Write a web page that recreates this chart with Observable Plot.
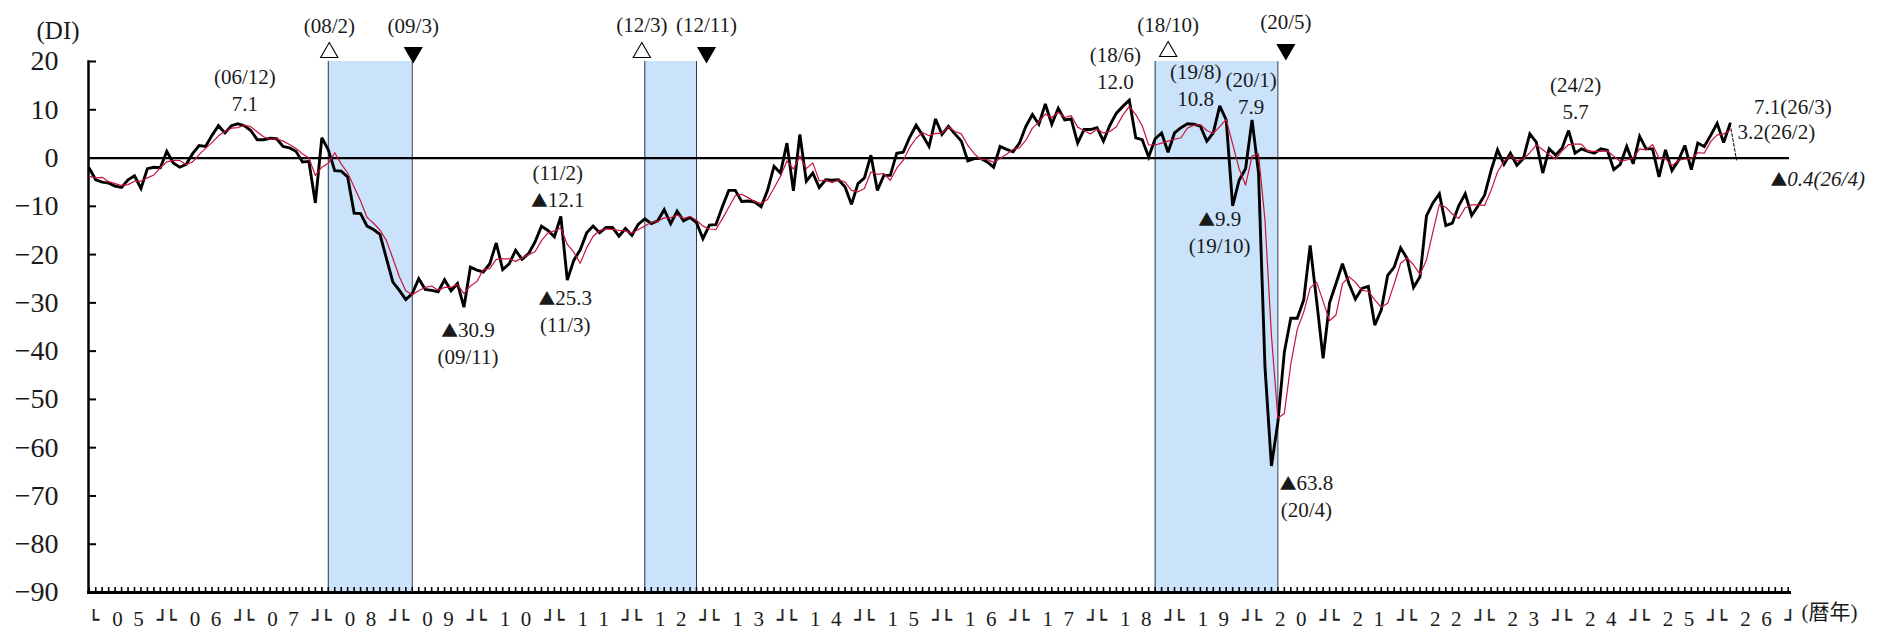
<!DOCTYPE html>
<html><head><meta charset="utf-8">
<script src="https://cdn.jsdelivr.net/npm/d3@7"></script>
<script src="https://cdn.jsdelivr.net/npm/@observablehq/plot@0.6"></script>
<style>
body{margin:0;background:#fff;}
#chart svg{display:block;}
</style></head><body><div id="chart"></div>
<script>
// ---------------- data ----------------
const startYear = 2005; // first month = 2005/1
// monthly DI (black line), 2005/1 .. 2026/3
const diMonthly = [
 -2.1,-4.5,-5.0,-5.2,-5.8,-6.1,-4.5,-3.7,-6.3,-2.2,-1.9,-2.0,
 1.4,-1.0,-1.9,-1.3,0.9,2.6,2.4,4.7,6.7,5.2,6.7,7.1,
 6.7,5.7,3.8,3.8,4.1,4.0,2.4,2.1,1.4,-0.8,-0.7,-9.3,
 4.2,1.7,-2.6,-2.7,-3.9,-11.4,-11.5,-14.1,-14.8,-15.8,-20.8,-25.7,
 -27.4,-29.3,-28.1,-25.0,-27.2,-27.4,-27.7,-25.2,-27.5,-26.0,-30.9,-22.6,
 -23.2,-23.6,-21.9,-17.6,-23.1,-21.9,-19.1,-21.0,-19.8,-17.4,-14.1,-15.0,
 -16.3,-12.1,-25.3,-21.2,-19.0,-15.5,-14.1,-15.5,-14.4,-14.4,-16.2,-14.6,
 -16.0,-13.7,-12.6,-13.6,-13.0,-10.7,-13.6,-11.0,-13.0,-12.3,-13.4,-16.7,
 -13.9,-13.8,-10.1,-6.7,-6.7,-9.0,-8.9,-9.1,-10.1,-6.7,-1.7,-3.1,
 3.1,-6.8,4.9,-4.8,-3.1,-6.1,-4.5,-4.6,-4.5,-6.0,-9.6,-5.3,
 -4.1,0.6,-6.7,-3.6,-3.6,1.0,1.2,4.3,6.8,4.7,2.4,8.1,
 4.9,6.6,5.0,3.5,-0.6,-0.1,-0.1,-0.8,-1.9,2.4,1.8,1.3,
 3.1,6.6,9.0,7.0,11.2,7.0,10.3,7.9,8.1,3.1,5.9,5.9,
 6.3,3.5,6.8,9.3,10.7,12.0,4.2,3.8,0.2,4.0,5.2,1.2,
 5.2,6.3,7.1,7.0,6.6,3.5,5.2,10.8,7.9,-9.9,-4.6,-2.2,
 7.9,-3.0,-43.2,-63.8,-54.7,-40.2,-33.2,-33.2,-29.4,-18.1,-29.6,-41.5,
 -30.0,-26.0,-21.9,-26.0,-29.2,-27.0,-26.6,-34.6,-31.5,-24.3,-22.6,-18.6,
 -20.8,-26.8,-24.6,-12.0,-9.3,-7.4,-14.0,-13.5,-9.9,-7.4,-11.9,-9.9,
 -7.7,-2.6,1.7,-1.3,1.0,-1.5,-0.1,5.0,3.3,-3.1,1.9,0.6,
 2.1,5.7,1.0,1.9,1.4,1.0,1.9,1.6,-2.4,-1.3,2.4,-1.2,
 4.5,1.9,1.9,-3.9,1.7,-2.6,-0.5,2.6,-2.4,3.1,2.4,4.7,
 7.2,3.2,7.1
];
// 3-month average (red line)
const diAvg3 = [
 -3.8,-4.1,-4.0,-4.9,-5.3,-5.7,-5.5,-4.8,-4.8,-4.1,-3.5,-2.0,
 -0.8,-0.5,-0.5,-1.4,-0.8,0.7,2.0,3.2,4.6,5.5,6.2,6.3,
 6.8,6.5,5.4,4.4,3.9,4.0,3.5,2.8,2.0,0.9,0.0,-3.6,
 -1.9,-1.1,1.1,-1.2,-3.1,-6.0,-8.9,-12.3,-13.5,-14.9,-17.1,-20.8,
 -24.6,-27.5,-28.3,-27.5,-26.8,-26.5,-27.4,-26.8,-26.8,-26.2,-28.1,-26.5,
 -25.6,-23.1,-22.9,-21.0,-20.9,-20.9,-21.4,-20.7,-20.0,-19.4,-17.1,-15.5,
 -15.1,-14.5,-17.9,-19.5,-21.8,-18.6,-16.2,-15.0,-14.7,-14.8,-15.0,-15.1,
 -15.6,-14.8,-14.1,-13.3,-13.1,-12.4,-12.4,-11.8,-12.5,-12.1,-12.9,-14.1,
 -14.7,-14.8,-12.6,-10.2,-7.8,-7.5,-8.2,-9.0,-9.4,-8.6,-6.2,-3.8,
 -0.6,-2.3,0.4,-2.2,-1.0,-4.7,-4.6,-5.1,-4.5,-5.0,-6.7,-7.0,
 -6.3,-2.9,-3.4,-3.2,-4.6,-2.1,-0.5,2.2,4.1,5.3,4.6,5.1,
 5.1,6.5,5.5,5.0,2.6,0.9,-0.3,-0.3,-0.9,-0.1,0.8,1.8,
 2.1,3.7,6.2,7.5,9.1,8.4,9.5,8.4,8.8,6.4,5.7,5.0,
 6.0,5.2,5.5,6.5,8.9,10.7,9.0,6.7,2.7,2.7,3.1,3.5,
 3.9,4.2,6.2,6.8,6.9,5.7,5.1,6.5,8.0,2.9,-2.2,-5.6,
 0.4,0.9,-12.8,-36.7,-53.9,-52.9,-42.7,-35.5,-31.9,-26.9,-25.7,-29.7,
 -33.7,-32.5,-26.0,-24.6,-25.7,-27.4,-27.6,-29.4,-30.9,-30.1,-26.1,-21.8,
 -20.7,-22.1,-24.1,-21.1,-15.3,-9.6,-10.2,-11.6,-12.5,-10.3,-9.7,-9.7,
 -9.8,-6.7,-2.9,-0.7,0.5,-0.6,-0.2,1.1,2.7,1.7,0.7,-0.2,
 1.5,2.8,2.9,2.9,1.4,1.4,1.4,1.5,0.4,-0.7,-0.4,0.0,
 1.9,1.7,2.8,0.0,-0.1,-1.6,-0.5,-0.2,-0.1,1.1,1.0,3.4,
 4.8,5.0,5.8
];
// preliminary value (dashed)
const prelimMonth = "26/4";
const prelimValue = -0.4;

const yearLabels = ["05","06","07","08","09","10","11","12","13","14","15","16","17","18","19","20","21","22","23","24","25","26"];
const yTicks = [20,10,0,-10,-20,-30,-40,-50,-60,-70,-80,-90];
const recessions = [["08/2","09/3"],["12/3","12/11"],["18/10","20/5"]];
const turningPoints = [
  {at:"08/2", kind:"peak"},{at:"09/3", kind:"trough"},
  {at:"12/3", kind:"peak"},{at:"12/11", kind:"trough"},
  {at:"18/10", kind:"peak"},{at:"20/5", kind:"trough"}
];
const annotatedMonths = ["06/12","09/11","11/2","11/3","18/6","19/8","19/10","20/1","20/4","24/2"];
const latestMonths = ["26/3","26/2"];

// ---------------- layout (styles / offsets) ----------------
const SERIF = '"Liberation Serif","DejaVu Serif","Noto Sans CJK JP",serif';
const CJK = '"Noto Sans CJK JP",sans-serif';
const BOX = '"DejaVu Sans",sans-serif';
const TXT = "#1a1a1a";
const FS = 21;
const labelLayout = {
  "06/12": {dx:7,  date:-47, value:-19.5},
  "09/11": {dx:4,  date:50,  value:23},
  "11/2":  {dx:-3, date:-43, value:-16},
  "11/3":  {dx:-2, date:45,  value:18},
  "18/6":  {dx:-14,date:-45, value:-18},
  "19/8":  {dx:-24,date:-34, value:-6.5},
  "19/10": {dx:-13,date:40,  value:13.5},
  "20/1":  {dx:-1, date:-39.5,value:-13},
  "20/4":  {dx:35, date:44,  value:17},
  "24/2":  {dx:7,  date:-45, value:-18.5}
};
const latestLayout = {"26/3": {dx:24, dy:-17}, "26/2": {dx:14, dy:-10}, "26/4": {dx:34, dy:19.5}};
const turnLayout = {
  "08/2": {dx:1, mark:-9, label:-35.5}, "09/3": {dx:1, mark:-9, label:-35.5},
  "12/3": {dx:-3, mark:-9, label:-36}, "12/11": {dx:10, mark:-9, label:-36},
  "18/10": {dx:13, mark:-10, label:-36.5}, "20/5": {dx:8, mark:-12, label:-39}
};

// ---------------- helpers ----------------
const idx = s => { const [yy, mm] = s.split("/").map(Number); return (2000 + yy - startYear) * 12 + mm - 1; };
const fmt = v => (v < 0 ? "▲" + (-v).toFixed(1) : v.toFixed(1));
const black = diMonthly.map((v, i) => ({i, v}));
const red = diAvg3.map((v, i) => ({i, v}));
const lastI = diMonthly.length - 1;
const dashed = [{i: lastI, v: diMonthly[lastI]}, {i: idx(prelimMonth), v: prelimValue}];
const recs = recessions.map(([a, b]) => ({x1: idx(a), x2: idx(b)}));
const edges = recessions.flat().map(idx);
const nMonths = yearLabels.length * 12;

const marks = [];
marks.push(Plot.rect(recs, {x1: "x1", x2: "x2", y1: () => -90, y2: () => 20, fill: "#cbe3fa"}));
marks.push(Plot.ruleX(edges, {x: d => d, y1: () => -90, y2: () => 20, stroke: "#2c3850", strokeWidth: 1}));
marks.push(Plot.ruleY([0], {stroke: "#000", strokeWidth: 2.2}));
// monthly comb ticks on the x axis (pointing up)
marks.push(Plot.tickX(d3.range(0, nMonths), {x: d => d, insetTop: 526, stroke: "#000", strokeWidth: 1.6}));
// y ticks (pointing right)
marks.push(Plot.tickY(yTicks, {y: d => d, insetRight: 1693, stroke: "#000", strokeWidth: 2}));
marks.push(Plot.frame({anchor: "left", stroke: "#000", strokeWidth: 2.5}));
marks.push(Plot.frame({anchor: "bottom", stroke: "#000", strokeWidth: 3}));
marks.push(Plot.axisY({ticks: yTicks, label: null, tickSize: 0, tickPadding: 30, fontSize: 28, fontFamily: SERIF,
  tickFormat: d => d < 0 ? "\u2212" + Math.abs(d) : String(d)}));
// lines
marks.push(Plot.line(black, {x: "i", y: "v", stroke: "#000", strokeWidth: 2.9, strokeLinejoin: "miter", strokeMiterlimit: 3}));
marks.push(Plot.line(dashed, {x: "i", y: "v", stroke: "#000", strokeWidth: 1, strokeDasharray: "3,2"}));
marks.push(Plot.line(red, {x: "i", y: "v", stroke: "#c8143c", strokeWidth: 1.2}));

// turning point markers
for (const t of turningPoints) {
  const L = turnLayout[t.at];
  const d = [{x: idx(t.at)}];
  marks.push(Plot.dot(d, {x: "x", y: () => 20, dx: L.dx, dy: L.mark, symbol: "triangle", r: 6.4,
    rotate: t.kind === "trough" ? 180 : 0, fill: t.kind === "trough" ? "#000" : "#fff", stroke: "#000", strokeWidth: 1.1}));
  marks.push(Plot.text(d, {x: "x", y: () => 20, dx: L.dx, dy: L.label, text: () => `(${t.at})`,
    fontSize: FS, fontFamily: SERIF, fill: TXT}));
}
// peak / trough annotations
for (const m of annotatedMonths) {
  const L = labelLayout[m];
  const d = [{x: idx(m), v: diMonthly[idx(m)]}];
  marks.push(Plot.text(d, {x: "x", y: "v", dx: L.dx, dy: L.date, text: () => `(${m})`, fontSize: FS, fontFamily: SERIF, fill: TXT}));
  marks.push(Plot.text(d, {x: "x", y: "v", dx: L.dx, dy: L.value, text: d => fmt(d.v), fontSize: FS, fontFamily: SERIF, fill: TXT}));
}
for (const m of latestMonths) {
  const L = latestLayout[m];
  const d = [{x: idx(m), v: diMonthly[idx(m)]}];
  marks.push(Plot.text(d, {x: "x", y: "v", dx: L.dx, dy: L.dy, textAnchor: "start", text: d => `${fmt(d.v)}(${m})`,
    fontSize: FS, fontFamily: SERIF, fill: TXT}));
}
{
  const L = latestLayout[prelimMonth];
  marks.push(Plot.text([{x: idx(prelimMonth), v: prelimValue}], {x: "x", y: "v", dx: L.dx, dy: L.dy, textAnchor: "start",
    text: d => `${fmt(d.v)}(${prelimMonth})`, fontStyle: "italic", fontSize: FS, fontFamily: SERIF, fill: TXT}));
}
// x axis year labels:  └ 0 5 ┘
marks.push(Plot.text(yearLabels, {x: (d, i) => i * 12 + 6, y: () => -90, dy: 27, text: d => d.split("").join("\u2002"),
  fontSize: 21, fontFamily: SERIF, fill: TXT}));
marks.push(Plot.text(yearLabels, {x: (d, i) => i * 12, y: () => -90, dy: 27.5, dx: -1, textAnchor: "start", text: () => "\u2514",
  fontSize: 18, fontFamily: BOX, fill: TXT, stroke: TXT, strokeWidth: 0.4}));
marks.push(Plot.text(yearLabels, {x: (d, i) => i * 12 + 12, y: () => -90, dy: 27.5, dx: 1, textAnchor: "end", text: () => "\u2518",
  fontSize: 18, fontFamily: BOX, fill: TXT, stroke: TXT, strokeWidth: 0.4}));
marks.push(Plot.text(["(暦年)"], {frameAnchor: "bottom-right", textAnchor: "start", dx: 12, dy: 26, fontSize: 21,
  fontFamily: '"Liberation Serif","Noto Sans CJK JP",serif', fill: TXT}));
marks.push(Plot.text(["(DI)"], {frameAnchor: "top-left", dx: -52, dy: -40, fontSize: 25, fontFamily: SERIF, fill: TXT}));

const chart = Plot.plot({
  width: 1883, height: 630,
  marginLeft: 88, marginRight: 94, marginTop: 61, marginBottom: 38,
  x: {domain: [-0.12, 263.2], axis: null},
  y: {domain: [-90, 20], axis: null},
  style: {fontFamily: SERIF, color: TXT, background: "#fff", overflow: "visible"},
  marks
});
// render the ▲ (negative sign) with a full-width glyph
d3.select(chart).selectAll("text").each(function () {
  const s = this.textContent;
  if (s && s.startsWith("▲")) {
    const rest = s.slice(1);
    this.textContent = "";
    d3.select(this).append("tspan").attr("font-family", CJK).attr("font-style", "normal").attr("font-size", "0.8em").text("▲");
    d3.select(this).append("tspan").text(rest);
  }
});
document.getElementById("chart").appendChild(chart);
</script></body></html>
